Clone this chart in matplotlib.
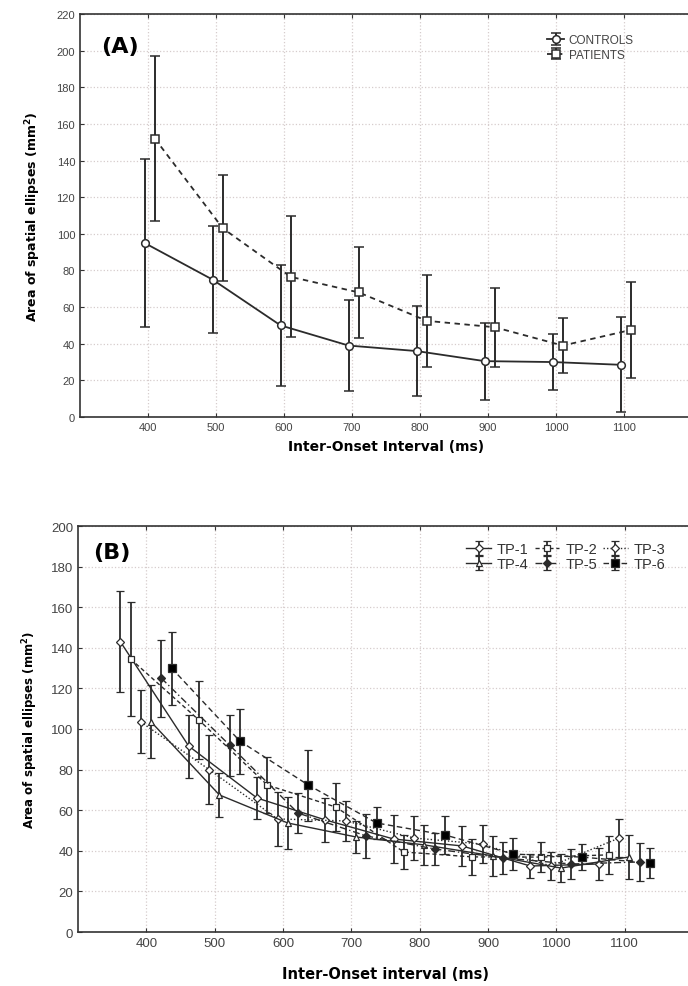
import numpy as np
import matplotlib
matplotlib.use("Agg")
import matplotlib.pyplot as plt

# Panel A data
ioi = [400, 500, 600, 700, 800, 900, 1000, 1100]
controls = [95, 75, 50, 39, 36, 30.5, 30, 28.5]
controls_err = [46, 29, 33, 25, 24.5, 21, 15.5, 26]
patients = [152, 103, 76.5, 68, 52.5, 49, 39, 47.5]
patients_err = [45, 29, 33, 25, 25, 21.5, 15, 26]

# Panel B data (one series per TP)
tp_names = ["TP-1", "TP-2", "TP-3", "TP-4", "TP-5", "TP-6"]
tp1 = [143, 91.6, 66, 55.2, 45.8, 42.4, 32.5, 33.5]
tp1_err = [25, 15.5, 10.5, 11, 12, 10, 6, 8]
tp2 = [134.5, 104.4, 72.4, 61.6, 39.4, 37, 36.9, 38]
tp2_err = [28, 19, 14, 12, 8.5, 9, 7.5, 9.5]
tp3 = [103.5, 80, 55.7, 54.7, 46.3, 43.3, 32.5, 46.3]
tp3_err = [15.5, 17, 13.5, 10, 11, 9.5, 7, 9.5]
tp4 = [103.5, 67.5, 53.7, 46.8, 42.9, 37.5, 31.5, 37]
tp4_err = [18, 11, 13, 8, 10, 10, 7, 11]
tp5 = [125, 92, 58.6, 47.3, 40.9, 36.5, 33.5, 34.5]
tp5_err = [19, 15, 10, 11, 8, 8, 7.5, 9.5]
tp6 = [130, 94, 72.4, 53.7, 47.8, 38.4, 36.9, 34]
tp6_err = [18, 16, 17.5, 8, 9.5, 8, 6.5, 7.5]

LINE = "#2b2b2b"
GRID = "#d6cccc"
TICKFONT = ["Liberation Sans", "DejaVu Sans"]


def style_axes(ax, ymax, tick_size):
    ax.set_xlim(300, 1200)
    ax.set_ylim(0, ymax)
    ax.set_xticks(ioi)
    ax.set_yticks(np.arange(0, ymax + 1, 20))
    ax.grid(True, color=GRID, linestyle=":", linewidth=0.9)
    ax.set_axisbelow(True)
    ax.tick_params(direction="in", top=True, length=3, width=0.8,
                   colors="#333333", labelsize=tick_size)
    for lab in ax.get_xticklabels() + ax.get_yticklabels():
        lab.set_family(TICKFONT)
        lab.set_color("#444444")
    for sp in ax.spines.values():
        sp.set_color("#333333")
        sp.set_linewidth(1.2)


fig = plt.figure(figsize=(6.88, 9.87), dpi=100)

# (A)
axA = fig.add_axes([80 / 688, 1 - 418 / 987, 612 / 688, 403 / 987])
x = np.array(ioi)
axA.errorbar(x - 5, controls, yerr=controls_err, color=LINE, lw=1.3, ls="-",
             marker="o", ms=5.5, mfc="white", mec=LINE, mew=1.1,
             capsize=3.5, elinewidth=1.4, capthick=1.2, label="CONTROLS")
axA.errorbar(x + 10, patients, yerr=patients_err, color=LINE, lw=1.3, ls=(0, (3, 2.5)),
             marker="s", ms=5.5, mfc="white", mec=LINE, mew=1.1,
             capsize=3.5, elinewidth=1.4, capthick=1.2, label="PATIENTS")
style_axes(axA, 220, 8)
axA.set_xlabel("Inter-Onset Interval (ms)", fontsize=10, fontweight="bold", labelpad=5)
axA.set_ylabel("Area of spatial ellipses (mm$^\\mathbf{2}$)", fontsize=9,
               fontweight="bold", labelpad=10)
axA.text(0.034, 0.92, "(A)", transform=axA.transAxes, fontsize=16,
         fontweight="bold", va="center")
leg = axA.legend(loc="upper left", bbox_to_anchor=(0.75, 0.97), frameon=False,
                 prop={"family": TICKFONT, "size": 8.5}, handlelength=1.4,
                 labelspacing=0.2, handletextpad=0.4, borderpad=0.2)
for t in leg.get_texts():
    t.set_color("#444444")

# (B)
axB = fig.add_axes([78 / 688, 1 - 933 / 987, 615 / 688, 406 / 987])
tp_vals = [tp1, tp2, tp3, tp4, tp5, tp6]
tp_errs = [tp1_err, tp2_err, tp3_err, tp4_err, tp5_err, tp6_err]
offsets = [-38, -23, -8, 7, 22, 37]
markers = ["D", "s", "D", "^", "D", "s"]
fills = ["white", "white", "white", "white", LINE, "black"]
sizes = [4.5, 5, 4.5, 5, 4.5, 5.5]
styles = ["-", (0, (3, 2)), (0, (1, 1.5)), "-", (0, (5, 2, 1, 2)), (0, (4, 2.5))]
for name, vals, errs, off, mk, fc, ms, ls in zip(tp_names, tp_vals, tp_errs, offsets,
                                                 markers, fills, sizes, styles):
    axB.errorbar(x + off, vals, yerr=errs, color=LINE, lw=1.0, ls=ls,
                 marker=mk, ms=ms, mfc=fc, mec=LINE, mew=0.9,
                 capsize=3, elinewidth=1.3, capthick=1.1, label=name)
style_axes(axB, 200, 9.5)
axB.set_xlabel("Inter-Onset interval (ms)", fontsize=10.5, fontweight="bold", labelpad=12)
axB.set_ylabel("Area of spatial ellipses (mm$^\\mathbf{2}$)", fontsize=8.5,
               fontweight="bold", labelpad=8)
axB.text(0.025, 0.935, "(B)", transform=axB.transAxes, fontsize=16,
         fontweight="bold", va="center")
# legend rows: TP-1 TP-2 TP-3 / TP-4 TP-5 TP-6
h, l = axB.get_legend_handles_labels()
order = [0, 3, 1, 4, 2, 5]
legB = axB.legend([h[i] for i in order], [l[i] for i in order], ncol=3,
                  loc="upper left", bbox_to_anchor=(0.615, 0.985), frameon=False,
                  prop={"family": TICKFONT, "size": 10.5}, handlelength=1.7,
                  labelspacing=0.05, handletextpad=0.4, columnspacing=0.4,
                  borderpad=0.2)
for t in legB.get_texts():
    t.set_color("#333333")

fig.savefig("out.png", dpi=100)
